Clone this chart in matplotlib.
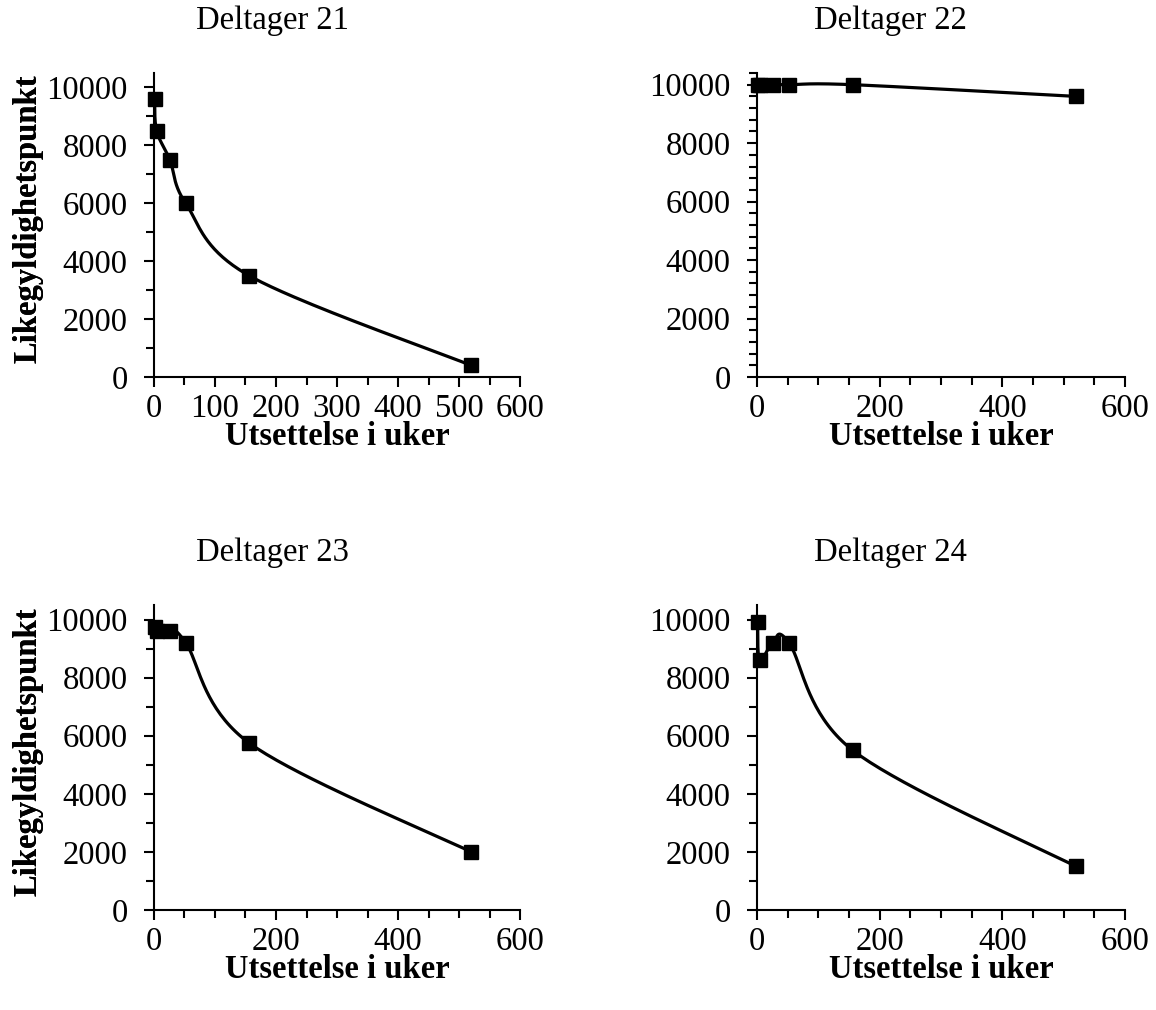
import numpy as np
import matplotlib.pyplot as plt
from matplotlib.ticker import MultipleLocator

plt.rcParams['font.family'] = ['Liberation Serif', 'DejaVu Serif']

# Data (delay in weeks -> indifference point)
weeks = [1, 4.3, 26, 52, 156, 520]
d21 = [9600, 8500, 7500, 6000, 3500, 400]
d22 = [10000, 10000, 10000, 10000, 10000, 9600]
d23 = [9750, 9600, 9600, 9200, 5750, 2000]
d24 = [9900, 8600, 9200, 9200, 5500, 1500]

titles = ['Deltager 21', 'Deltager 22', 'Deltager 23', 'Deltager 24']
series = [d21, d22, d23, d24]


def smooth(x, y, sx, sy, n=40):
    # Excel-like smoothed line: bezier through points, computed in screen units
    px = np.asarray(x, float) * sx
    py = np.asarray(y, float) * sy
    pts = np.column_stack([px, py])
    out = []
    for i in range(len(pts) - 1):
        p0 = pts[i - 1] if i > 0 else pts[i]
        p1 = pts[i]
        p2 = pts[i + 1]
        p3 = pts[i + 2] if i + 2 < len(pts) else pts[i + 1]
        c1 = p1 + (p2 - p0) / 6
        c2 = p2 - (p3 - p1) / 6
        t = np.linspace(0, 1, n)[:, None]
        seg = ((1 - t) ** 3) * p1 + 3 * ((1 - t) ** 2) * t * c1 + 3 * (1 - t) * t ** 2 * c2 + t ** 3 * p2
        out.append(seg)
    out = np.vstack(out)
    return out[:, 0] / sx, out[:, 1] / sy


fig = plt.figure(figsize=(11.56, 10.1), dpi=100)

W, H = 1156, 1010
boxes = [(154, 520, 73, 377), (757, 1125, 73, 377),
         (154, 520, 605, 910), (757, 1125, 605, 910)]
ymax = [10500, 10400, 10500, 10500]
xmajor = [100, 200, 200, 200]
yminor = [1000, 400, 1000, 1000]
title_x = [272, 890, 272, 890]

for k in range(4):
    l, r, t, b = boxes[k]
    ax = fig.add_axes([l / W, 1 - b / H, (r - l) / W, (b - t) / H])
    ax.set_xlim(0, 600)
    ax.set_ylim(0, ymax[k])
    sx = (r - l) / 600
    sy = (b - t) / ymax[k]
    xs, ys = smooth(weeks, series[k], sx, sy)
    ax.plot(xs, ys, color='black', lw=2.3, clip_on=False)
    ax.plot(weeks, series[k], 's', color='black', ms=10, clip_on=False)

    ax.xaxis.set_major_locator(MultipleLocator(xmajor[k]))
    ax.xaxis.set_minor_locator(MultipleLocator(50))
    ax.yaxis.set_minor_locator(MultipleLocator(yminor[k]))
    ax.set_yticks(range(0, 10001, 2000))
    for s in ['top', 'right']:
        ax.spines[s].set_visible(False)
    for s in ['left', 'bottom']:
        ax.spines[s].set_linewidth(1.5)
    ax.tick_params(which='both', direction='out', width=1.5, labelsize=23.5)
    ax.tick_params(which='major', length=7)
    ax.tick_params(which='minor', length=6)
    ax.tick_params(axis='y', which='major', pad=12)
    ax.tick_params(axis='x', which='major', pad=5)

    cx = (l + r) / 2
    fig.text(title_x[k] / W, 1 - (t - 52) / H, titles[k], ha='center', va='center', fontsize=23.5)
    fig.text(28 / W, 1 - ((t + b) / 2 - 6) / H, 'Likegyldighetspunkt', rotation=90,
             ha='center', va='center', fontsize=23.5, fontweight='bold')
    fig.text(cx / W, 1 - (b + 60) / H, 'Utsettelse i uker', ha='center', va='center',
             fontsize=23.5, fontweight='bold')

plt.savefig('out.png', dpi=100)
